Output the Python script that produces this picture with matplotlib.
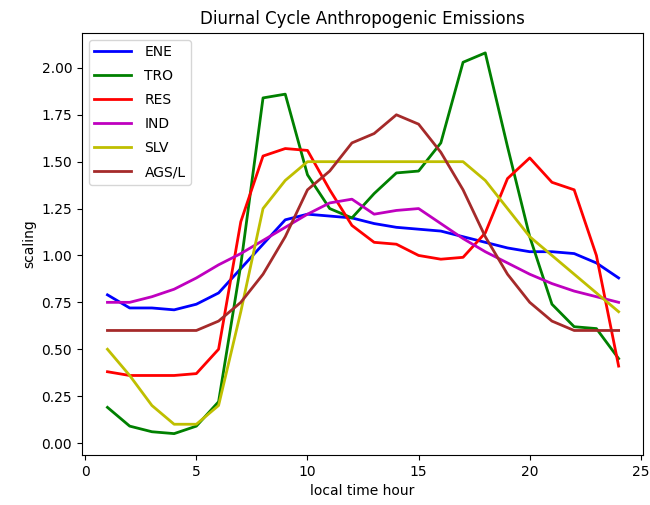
import numpy as np
import matplotlib.pyplot as plt

hours = np.arange(1, 25)

ene = [0.79, 0.72, 0.72, 0.71, 0.74, 0.80, 0.93, 1.06, 1.19, 1.22, 1.21, 1.20,
       1.17, 1.15, 1.14, 1.13, 1.10, 1.07, 1.04, 1.02, 1.02, 1.01, 0.96, 0.88]
tro = [0.19, 0.09, 0.06, 0.05, 0.09, 0.22, 0.95, 1.84, 1.86, 1.43, 1.25, 1.20,
       1.33, 1.44, 1.45, 1.60, 2.03, 2.08, 1.58, 1.10, 0.74, 0.62, 0.61, 0.45]
res = [0.38, 0.36, 0.36, 0.36, 0.37, 0.50, 1.18, 1.53, 1.57, 1.56, 1.35, 1.16,
       1.07, 1.06, 1.00, 0.98, 0.99, 1.12, 1.41, 1.52, 1.39, 1.35, 1.00, 0.41]
ind = [0.75, 0.75, 0.78, 0.82, 0.88, 0.95, 1.01, 1.08, 1.15, 1.22, 1.28, 1.30,
       1.22, 1.24, 1.25, 1.17, 1.09, 1.02, 0.96, 0.90, 0.85, 0.81, 0.78, 0.75]
slv = [0.50, 0.36, 0.20, 0.10, 0.10, 0.20, 0.70, 1.25, 1.40, 1.50, 1.50, 1.50,
       1.50, 1.50, 1.50, 1.50, 1.50, 1.40, 1.25, 1.10, 1.00, 0.90, 0.80, 0.70]
ags = [0.60, 0.60, 0.60, 0.60, 0.60, 0.65, 0.75, 0.90, 1.10, 1.35, 1.45, 1.60,
       1.65, 1.75, 1.70, 1.55, 1.35, 1.10, 0.90, 0.75, 0.65, 0.60, 0.60, 0.60]

labels = ['ENE', 'TRO', 'RES', 'IND', 'SLV', 'AGS/L']
colors = ['b', 'g', 'r', 'm', 'y', 'brown']

fig = plt.figure(figsize=(6.5, 5.05), dpi=100)
ax = fig.add_axes([0.126, 0.099, 0.863, 0.836])
for vals, lab, c in zip([ene, tro, res, ind, slv, ags], labels, colors):
    ax.plot(hours, vals, color=c, lw=2, label=lab)

ax.set_xlim(-0.15, 25.09)
ax.set_ylim(-0.064, 2.187)
ax.set_yticks(np.arange(0, 2.01, 0.25))
ax.set_yticklabels(['%.2f' % v for v in np.arange(0, 2.01, 0.25)])
ax.set_title('Diurnal Cycle Anthropogenic Emissions')
ax.set_xlabel('local time hour')
ax.set_ylabel('scaling')
ax.legend(loc='upper left', handlelength=2.6, labelspacing=0.72, handletextpad=1.0)

fig.savefig('out.png')
